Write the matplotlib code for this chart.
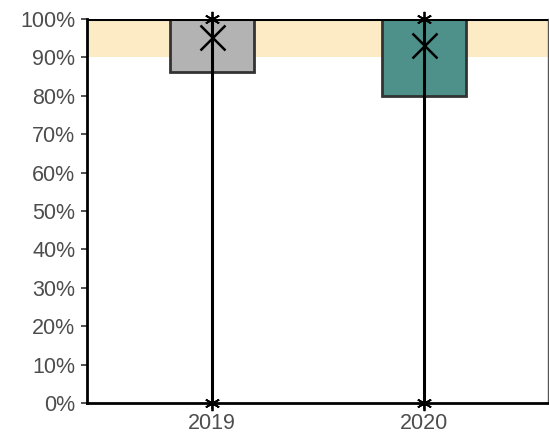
import matplotlib
matplotlib.use("Agg")
import matplotlib.pyplot as plt
from matplotlib.ticker import FuncFormatter

plt.rcParams['font.family'] = ['Liberation Sans', 'DejaVu Sans']

years = ["2019", "2020"]
box_low = [86.2, 80.0]
box_high = [100.0, 100.0]
whisker_min = [0.0, 0.0]
whisker_max = [100.0, 100.0]
means = [95.3, 93.2]
box_colors = ["#B3B3B3", "#4E918B"]
band_low, band_high = 90, 100
yticks = list(range(0, 101, 10))

fig = plt.figure(figsize=(5.49, 4.37), dpi=100)
ax = fig.add_axes([0.1585, 0.0778, 0.8395, 0.8787])

ax.axhspan(band_low, band_high, color="#FDEBC6", zorder=0, lw=0)

xs = list(range(1, len(years) + 1))
width = 0.4
for x, lo, hi, c in zip(xs, box_low, box_high, box_colors):
    ax.bar(x, hi - lo, bottom=lo, width=width, color=c, edgecolor="#333333",
           linewidth=2, zorder=2)
for x, lo, hi in zip(xs, whisker_min, whisker_max):
    ax.plot([x, x], [lo, hi], color="black", lw=2.2, zorder=3, solid_capstyle="butt")
ax.plot(xs, whisker_min, linestyle="none", marker=(6, 2, 0), markersize=11,
        markeredgewidth=1.3, color="black", zorder=4, clip_on=False)
ax.plot(xs, whisker_max, linestyle="none", marker=(6, 2, 0), markersize=11,
        markeredgewidth=1.3, color="black", zorder=4, clip_on=False)
ax.plot(xs, means, linestyle="none", marker="x", markersize=18,
        markeredgewidth=1.8, color="black", zorder=4)
ax.axhline(100, color="black", lw=2.2, zorder=3)

ax.set_xlim(0.41, 2.585)
ax.set_ylim(0, 100)
ax.set_xticks(xs)
ax.set_xticklabels(years)
ax.set_yticks(yticks)
ax.yaxis.set_major_formatter(FuncFormatter(lambda v, p: f"{int(v)}%"))
ax.tick_params(axis="both", labelsize=15.5, labelcolor="#4D4D4D",
               color="#333333", length=4, width=1.2)
ax.tick_params(axis="y", pad=4.5)
ax.tick_params(axis="x", pad=3)

for s in ["left", "bottom"]:
    ax.spines[s].set_linewidth(2)
    ax.spines[s].set_color("black")
ax.spines["top"].set_visible(False)
ax.spines["right"].set_color("#555555")
ax.spines["right"].set_linewidth(1)

fig.savefig("out.png", dpi=100)
